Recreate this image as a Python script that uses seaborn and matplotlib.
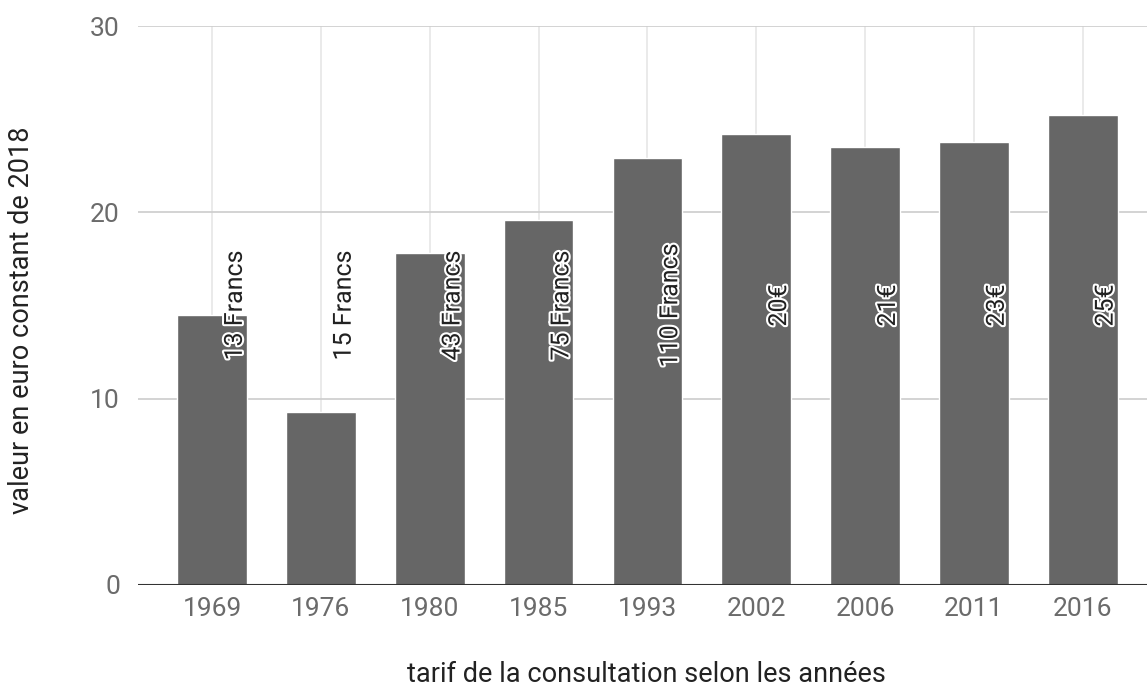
import matplotlib
matplotlib.use("Agg")
import matplotlib.pyplot as plt
import matplotlib.patheffects as pe
import seaborn as sns
import pandas as pd

years = ["1969", "1976", "1980", "1985", "1993", "2002", "2006", "2011", "2016"]
values = [14.5, 9.3, 17.8, 19.6, 22.9, 24.2, 23.5, 23.8, 25.2]
labels = ["13 Francs", "15 Francs", "43 Francs", "75 Francs", "110 Francs",
          "20€", "21€", "23€", "25€"]

sns.set_theme(style="white")
plt.rcParams['font.family'] = ['Roboto', 'DejaVu Sans']

df = pd.DataFrame({"annee": years, "valeur": values})

fig = plt.figure(figsize=(11.47, 6.91), dpi=100)
ax = fig.add_axes([138/1147, 106/691, 1 - 138/1147, (585-26)/691])

sns.barplot(data=df, x="annee", y="valeur", order=years, color="#666666",
            saturation=1, width=0.64, ax=ax, zorder=3)

ax.set_ylim(0, 30)
ax.set_xlim(-0.68, 8.59)
ax.set_yticks([0, 10, 20, 30])
for y in [10, 20, 30]:
    ax.axhline(y, color="#cccccc", lw=1.2, zorder=1)
for i in range(len(years)):
    ax.axvline(i, color="#e6e6e6", lw=1.2, zorder=0)
ax.axhline(0, color="#333333", lw=1.5, zorder=4)

for s in ax.spines.values():
    s.set_visible(False)

ax.tick_params(axis="both", length=0, labelsize=19, labelcolor="#6b6b6b")
ax.tick_params(axis="y", pad=13)
ax.tick_params(axis="x", pad=9)

ax.set_xlabel("tarif de la consultation selon les années", fontsize=19.5,
              color="#222222")
ax.set_ylabel("valeur en euro constant de 2018", fontsize=19.5,
              color="#222222")
ax.xaxis.set_label_coords((646 - 138) / 1009, (585 - 675) / 559)
ax.xaxis.label.set_va("center")
ax.yaxis.set_label_coords((22 - 138) / 1009, (585 - 320) / 559)
ax.yaxis.label.set_va("center")

for i, lab in enumerate(labels):
    ax.text(i + 0.21, 15, lab, rotation=90, ha="center", va="center",
            fontsize=18, color="#222222", zorder=5,
            path_effects=[pe.withStroke(linewidth=3, foreground="white")])

fig.savefig("out.png", dpi=100)
